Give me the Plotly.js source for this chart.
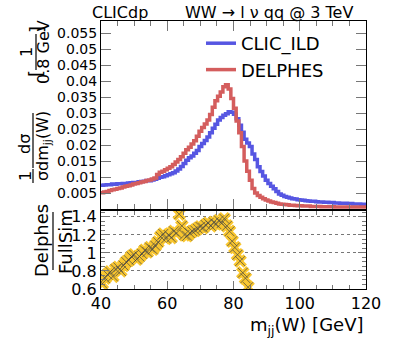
<!DOCTYPE html>
<html>
<head>
<meta charset="utf-8">
<script src="https://cdn.plot.ly/plotly-3.0.1.min.js"></script>
<style>
html, body { margin: 0; padding: 0; background: #fff; }
#chart { width: 407px; height: 348px; }
</style>
</head>
<body>
<div id="chart"></div>
<script>
// histograms: 100 bins of 0.8 GeV from 40 to 120 GeV
const binLow = 40;
const binWidth = 0.8;

const clicIld = [
    0.0074, 0.0075, 0.0076, 0.0076, 0.0078, 0.0077, 0.0079, 0.0079, 0.0080, 0.0080,
    0.0081, 0.0082, 0.0083, 0.0083, 0.0085, 0.0086, 0.0087, 0.0089, 0.0088, 0.0091,
    0.0093, 0.0096, 0.0099, 0.0101, 0.0104, 0.0107, 0.0110, 0.0113, 0.0119, 0.0125,
    0.0133, 0.0142, 0.0152, 0.0160, 0.0166, 0.0174, 0.0183, 0.0195, 0.0205, 0.0214,
    0.0225, 0.0238, 0.0252, 0.0265, 0.0278, 0.0286, 0.0293, 0.0298, 0.0304, 0.0302,
    0.0296, 0.0282, 0.0262, 0.0240, 0.0218, 0.0206, 0.0195, 0.0172, 0.0155, 0.0132,
    0.0117, 0.0103, 0.0090, 0.0080, 0.0071, 0.0063, 0.0055, 0.0047, 0.0043, 0.0039,
    0.0037, 0.0034, 0.0032, 0.0031, 0.0029, 0.0028, 0.0027, 0.0026, 0.0025, 0.0024,
    0.0024, 0.0023, 0.0022, 0.0022, 0.0021, 0.0021, 0.0020, 0.0020, 0.0019, 0.0019,
    0.0018, 0.0018, 0.0018, 0.0017, 0.0017, 0.0016, 0.0016, 0.0016, 0.0015, 0.0015
];

const delphes = [
    0.0051, 0.0053, 0.0055, 0.0058, 0.0060, 0.0062, 0.0064, 0.0066, 0.0069, 0.0071,
    0.0073, 0.0075, 0.0078, 0.0080, 0.0082, 0.0084, 0.0086, 0.0089, 0.0091, 0.0094,
    0.0097, 0.0108, 0.0115, 0.0118, 0.0123, 0.0127, 0.0132, 0.0139, 0.0147, 0.0155,
    0.0163, 0.0174, 0.0185, 0.0193, 0.0203, 0.0213, 0.0227, 0.0243, 0.0255, 0.0266,
    0.0278, 0.0295, 0.0318, 0.0338, 0.0352, 0.0366, 0.0382, 0.0388, 0.0375, 0.0345,
    0.0315, 0.0275, 0.0238, 0.0195, 0.0150, 0.0118, 0.0090, 0.0064, 0.0050, 0.0042,
    0.0037, 0.0032, 0.0028, 0.0025, 0.0022, 0.0020, 0.0018, 0.0016, 0.0015, 0.0014,
    0.0013, 0.0012, 0.0012, 0.0011, 0.0010, 0.0010, 0.0009, 0.0009, 0.0009, 0.0008,
    0.0008, 0.0008, 0.0008, 0.0007, 0.0007, 0.0007, 0.0007, 0.0007, 0.0006, 0.0006,
    0.0006, 0.0006, 0.0006, 0.0006, 0.0006, 0.0006, 0.0006, 0.0006, 0.0006, 0.0006
];

// Delphes / FullSim, first 56 bins (rest falls below 0.6)
const ratio = [
    0.66, 0.72, 0.76, 0.79, 0.74, 0.82, 0.84, 0.80, 0.86, 0.90,
    0.92, 0.96, 0.98, 0.93, 0.96, 0.99, 1.03, 1.01, 1.06, 1.04,
    1.08, 1.12, 1.18, 1.21, 1.16, 1.20, 1.17, 1.24, 1.22, 1.43,
    1.30, 1.20, 1.19, 1.22, 1.24, 1.25, 1.27, 1.29, 1.28, 1.31,
    1.33, 1.30, 1.34, 1.32, 1.36, 1.33, 1.38, 1.30, 1.24, 1.13,
    1.06, 0.98, 0.91, 0.78, 0.72, 0.62
];

const massTicks = [40, 60, 80, 100, 120];
const massTickText = ["40", "60", "80", "100", "120"];
const topTicks = [0.005, 0.01, 0.015, 0.02, 0.025, 0.03, 0.035, 0.04, 0.045, 0.05, 0.055];
const topTickText = ["0.005", "0.01", "0.015", "0.02", "0.025", "0.03", "0.035", "0.04", "0.045", "0.05", "0.055"];
const ratioTicks = [0.6, 0.8, 1, 1.2, 1.4];
const ratioTickText = ["0.6", "0.8", "1", "1.2", "1.4"];

const FONT = "DejaVu Sans, sans-serif";
// frame in pixels
const L = 101, R = 366, T = 21, B = 289;
const px = (x) => (x - L) / (R - L);
const py = (y) => (B - y) / (B - T);

function edges(values) {
    const x = values.map((v, i) => binLow + binWidth * i);
    x.push(binLow + binWidth * values.length);
    return x;
}
function stepY(values) {
    return values.concat([values[values.length - 1]]);
}
const centers = ratio.map((v, i) => binLow + binWidth * (i + 0.5));

const data = [
    {
        x: edges(clicIld), y: stepY(clicIld), type: "scatter", mode: "lines",
        name: "CLIC_ILD", line: { shape: "hv", color: "#5656e2", width: 3.5 },
        xaxis: "x", yaxis: "y"
    },
    {
        x: edges(delphes), y: stepY(delphes), type: "scatter", mode: "lines",
        name: "DELPHES", line: { shape: "hv", color: "#d45d5d", width: 3.5 },
        xaxis: "x", yaxis: "y"
    },
    {
        x: centers, y: ratio, type: "scatter", mode: "markers", showlegend: false,
        marker: { symbol: "x", size: 12, color: "#f9c62e", line: { width: 0 } },
        xaxis: "x2", yaxis: "y2"
    },
    {
        x: centers, y: ratio, type: "scatter", mode: "markers", showlegend: false,
        marker: { symbol: "x-thin-open", size: 10, color: "#444", line: { width: 0.7 } },
        xaxis: "x2", yaxis: "y2"
    }
];

const frame = { showline: true, linecolor: "#000", linewidth: 1, mirror: "allticks", zeroline: false, showgrid: false };
const tickFont = (s) => ({ family: FONT, size: s, color: "#000" });

const txt = (text, x, y, size, extra) => Object.assign({
    text: text, x: px(x), y: py(y), xref: "paper", yref: "paper", showarrow: false,
    font: { family: FONT, size: size, color: "#000" }, xanchor: "center", yanchor: "middle"
}, extra || {});
const rot = (text, x, y, size) => txt(text, x, y, size, { textangle: -90 });
const vbar = (x, y0, y1) => ({
    type: "line", xref: "paper", yref: "paper", x0: px(x), x1: px(x), y0: py(y0), y1: py(y1),
    line: { color: "#000", width: 1.2 }
});

const layout = {
    width: 407, height: 348,
    margin: { l: L, r: 407 - R, t: T, b: 348 - B },
    paper_bgcolor: "#fff", plot_bgcolor: "#fff",
    font: { family: FONT, color: "#000" },
    showlegend: true,
    legend: {
        x: px(201), y: py(25), xanchor: "left", yanchor: "top",
        font: { family: FONT, size: 18, color: "#000" },
        bgcolor: "rgba(0,0,0,0)", tracegroupgap: 0, itemwidth: 30
    },
    xaxis: Object.assign({}, frame, {
        domain: [0, 1], range: [40, 120], anchor: "y", showticklabels: false,
        ticks: "inside", ticklen: 10, tickcolor: "#777", tickvals: massTicks,
        minor: { ticks: "inside", ticklen: 5, tickcolor: "#777", dtick: 5, tick0: 40 }
    }),
    yaxis: Object.assign({}, frame, {
        domain: [(B - 209) / (B - T), 1], range: [0, 0.05875], anchor: "x",
        ticks: "inside", ticklen: 10, tickcolor: "#777",
        tickvals: topTicks, ticktext: topTickText, tickfont: tickFont(14)
    }),
    xaxis2: Object.assign({}, frame, {
        domain: [0, 1], range: [40, 120], anchor: "y2",
        ticks: "inside", ticklen: 8, tickcolor: "#777",
        tickvals: massTicks, ticktext: massTickText, tickfont: tickFont(16),
        minor: { ticks: "inside", ticklen: 4, tickcolor: "#777", dtick: 5, tick0: 40 }
    }),
    yaxis2: Object.assign({}, frame, {
        domain: [0, (B - 211) / (B - T)], range: [0.6, 1.465], anchor: "x2",
        ticks: "inside", ticklen: 8, tickcolor: "#777",
        tickvals: ratioTicks, ticktext: ratioTickText, tickfont: tickFont(16),
        showgrid: true, gridcolor: "#777", griddash: "dot", gridwidth: 1,
        minor: { ticks: "inside", ticklen: 4, tickcolor: "#777", dtick: 0.05, tick0: 0.6 }
    }),
    annotations: [
        txt("CLICdp", 90, 12, 16, { xanchor: "left" }),
        txt("WW \u2192 l \u03bd qq @ 3 TeV", 183, 12, 16, { xanchor: "left" }),
        txt("m<sub>jj</sub>(W) [GeV]", 366, 326, 18, { xanchor: "right" }),
        // 1/sigma dsigma/dm_jj(W) [1/0.8 GeV]
        rot("1", 25, 176, 16),
        rot("\u03c3", 42, 176, 16),
        rot("d\u03c3", 24, 144, 16),
        rot("dm<sub>jj</sub>(W)", 43, 141, 16),
        rot("1", 27, 52, 16),
        rot("0.8 GeV", 44, 52, 16),
        rot("[", 36, 74, 18),
        rot("]", 36, 30, 18),
        // Delphes / FullSim
        rot("Delphes", 41, 241, 18),
        rot("FullSim", 65, 242, 18)
    ],
    shapes: [
        vbar(33, 169, 183),
        vbar(33, 113, 168),
        vbar(36, 34, 70),
        vbar(53, 212, 270)
    ]
};

Plotly.newPlot("chart", data, layout, { displayModeBar: false, staticPlot: true });
</script>
</body>
</html>
